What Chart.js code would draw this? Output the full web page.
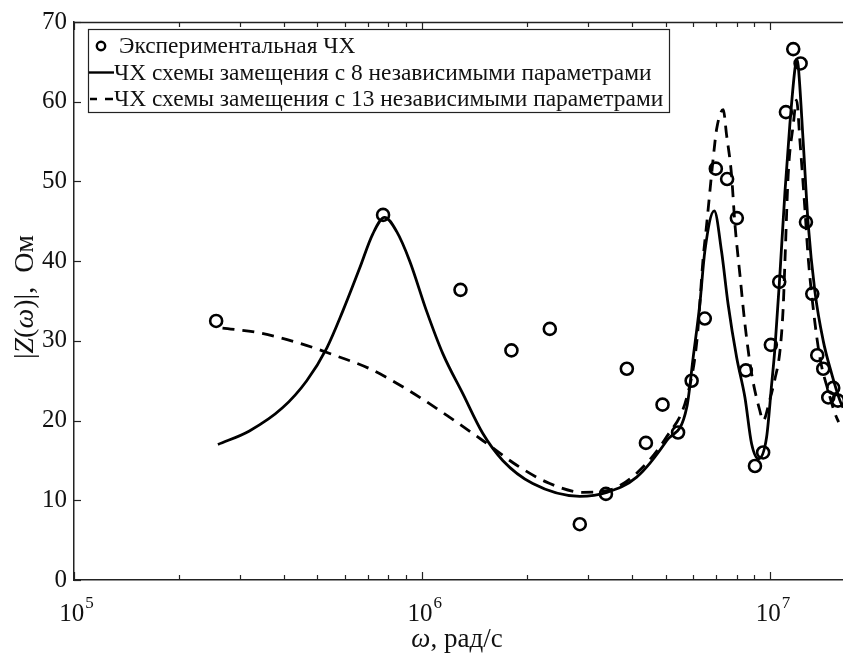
<!DOCTYPE html>
<html>
<head>
<meta charset="utf-8">
<script src="https://cdn.jsdelivr.net/npm/chart.js@4.4.1/dist/chart.umd.min.js"></script>
<style>
html,body{margin:0;padding:0;overflow:hidden;background:#fff}
canvas{display:block}
</style>
</head>
<body>
<canvas id="c" width="880" height="655"></canvas>
<script>
// Experimental frequency response (circles)
const expOmega = [2.56e5, 7.72e5, 1.288e6, 1.804e6, 2.325e6, 2.835e6, 3.37e6, 3.87e6, 4.39e6, 4.90e6,
  5.43e6, 5.94e6, 6.48e6, 6.97e6, 7.51e6, 8.01e6, 8.50e6, 9.03e6, 9.53e6, 1.003e7,
  1.060e7, 1.108e7, 1.163e7, 1.221e7, 1.265e7, 1.319e7, 1.363e7, 1.418e7, 1.466e7, 1.515e7, 1.563e7];
const expZ = [32.5, 45.8, 36.4, 28.8, 31.5, 7.0, 10.8, 26.5, 17.2, 22.0,
  18.5, 25.0, 32.8, 51.6, 50.3, 45.4, 26.3, 14.3, 16.0, 29.5,
  37.4, 58.7, 66.6, 64.8, 44.9, 35.9, 28.2, 26.5, 22.9, 24.1, 22.5];

// Model with 8 independent parameters (solid)
const fit8Omega = [2.59e5, 3.19e5, 3.97e5, 4.66e5, 5.32e5, 5.91e5, 6.61e5, 7.21e5, 7.80e5, 8.45e5,
  9.21e5, 1.03e6, 1.146e6, 1.307e6, 1.492e6, 1.703e6, 2.077e6, 2.835e6, 3.39e6, 4.13e6,
  5.04e6, 5.76e6, 6.00e6, 6.27e6, 6.48e6, 6.90e6, 7.24e6, 7.56e6, 8.00e6, 8.45e6,
  8.83e6, 9.25e6, 9.75e6, 1.008e7, 1.03e7, 1.065e7, 1.101e7, 1.137e7, 1.176e7, 1.19e7,
  1.202e7, 1.242e7, 1.284e7, 1.342e7, 1.418e7, 1.499e7, 1.584e7, 1.616e7];
const fit8Z = [17.0, 18.7, 21.6, 25.0, 29.1, 33.7, 39.1, 43.4, 45.5, 43.7,
  40.0, 33.7, 28.4, 23.4, 18.4, 15.0, 12.1, 10.5, 11.0, 12.9,
  17.5, 21.8, 27.9, 34.6, 41.2, 46.3, 41.2, 34.6, 27.9, 22.9,
  17.1, 15.2, 17.9, 24.5, 29.0, 38.4, 48.7, 57.1, 64.1, 65.3,
  64.5, 55.0, 44.6, 36.2, 30.0, 25.9, 22.5, 21.6];

// Model with 13 independent parameters (dashed)
const fit13Omega = [2.67e5, 3.41e5, 4.45e5, 5.68e5, 7.07e5, 9.21e5, 1.2e6, 1.492e6, 1.869e6, 2.325e6,
  2.892e6, 3.39e6, 4.13e6, 5.04e6, 5.76e6, 6.15e6, 6.41e6, 6.56e6, 6.70e6, 6.85e6,
  7.01e6, 7.32e6, 7.48e6, 7.73e6, 7.91e6, 8.17e6, 8.45e6, 8.83e6, 9.33e6, 9.53e6,
  9.97e6, 1.03e7, 1.065e7, 1.088e7, 1.101e7, 1.125e7, 1.163e7, 1.189e7, 1.216e7, 1.256e7,
  1.284e7, 1.327e7, 1.387e7, 1.466e7, 1.532e7, 1.57e7];
const fit13Z = [31.6, 31.0, 29.7, 28.1, 26.5, 23.7, 20.4, 17.5, 14.4, 12.1,
  11.0, 11.2, 13.4, 18.0, 23.0, 30.0, 40.4, 44.6, 48.7, 52.9,
  56.6, 59.0, 55.9, 50.9, 44.6, 38.4, 32.1, 25.9, 21.2, 20.0,
  22.7, 25.2, 28.7, 34.1, 40.0, 50.9, 57.1, 60.2, 55.0, 46.6,
  40.4, 34.1, 27.9, 23.7, 20.9, 19.8];

const yTicks = [0, 10, 20, 30, 40, 50, 60, 70];
const xDecades = [5, 6, 7];
const legendLabels = [
  'Экспериментальная ЧХ',
  'ЧХ схемы замещения с 8 независимыми параметрами',
  'ЧХ схемы замещения с 13 независимыми параметрами'
];
const xTitleParts = [['ω', true], [', рад/с', false]];
const yTitleParts = [['|', false], ['Z', true], ['(', false], ['ω', true], [')|,  Ом', false]];

const FONT = 'Liberation Serif';
const INK = '#111';

function toPoints(xs, ys) { return xs.map((v, i) => ({x: v, y: ys[i]})); }

function drawParts(ctx, parts, size, cx, cy) {
  let total = 0;
  const widths = parts.map(([t, it]) => {
    ctx.font = (it ? 'italic ' : '') + size + 'px "' + FONT + '"';
    const w = ctx.measureText(t).width; total += w; return w;
  });
  let xx = cx - total / 2;
  parts.forEach(([t, it], i) => {
    ctx.font = (it ? 'italic ' : '') + size + 'px "' + FONT + '"';
    ctx.fillText(t, xx, cy);
    xx += widths[i];
  });
}

const framePlugin = {
  id: 'framePlugin',
  afterDatasetsDraw(chart) {
    const {ctx, chartArea: a, scales: {x, y}} = chart;
    ctx.save();
    ctx.strokeStyle = '#222';
    ctx.lineWidth = 1.5;
    ctx.beginPath();
    ctx.moveTo(a.left, a.top + 0.5); ctx.lineTo(a.right, a.top + 0.5);
    ctx.stroke();
    ctx.lineWidth = 1.2;
    for (const d of xDecades) {
      for (let m = 1; m <= 9; m++) {
        const v = m * Math.pow(10, d);
        if (v < x.min || v > x.max) continue;
        const px = Math.round(x.getPixelForValue(v)) + 0.5;
        const len = m === 1 ? 8 : 5;
        ctx.beginPath();
        ctx.moveTo(px, a.bottom); ctx.lineTo(px, a.bottom - len);
        ctx.moveTo(px, a.top); ctx.lineTo(px, a.top + len);
        ctx.stroke();
      }
    }
    for (const v of yTicks) {
      const py = Math.round(y.getPixelForValue(v)) + 0.5;
      ctx.beginPath(); ctx.moveTo(a.left, py); ctx.lineTo(a.left + 7, py); ctx.stroke();
    }
    ctx.restore();
  },
  afterDraw(chart) {
    const {ctx, chartArea: a, scales: {x}} = chart;
    ctx.save();
    ctx.fillStyle = INK;
    ctx.textBaseline = 'alphabetic';
    // x tick labels 10^n
    for (const d of xDecades) {
      const px = x.getPixelForValue(Math.pow(10, d));
      ctx.font = '25px "' + FONT + '"';
      const wb = ctx.measureText('10').width;
      ctx.font = '17px "' + FONT + '"';
      const we = ctx.measureText(String(d)).width;
      const start = px - (wb + we) / 2 + 2;
      ctx.font = '25px "' + FONT + '"';
      ctx.fillText('10', start, a.bottom + 41);
      ctx.font = '17px "' + FONT + '"';
      ctx.fillText(String(d), start + wb + 1, a.bottom + 28);
    }
    // axis titles
    drawParts(ctx, xTitleParts, 27, 457, 647);
    ctx.save();
    ctx.translate(33, 297);
    ctx.rotate(-Math.PI / 2);
    drawParts(ctx, yTitleParts, 28, 0, 0);
    ctx.restore();
    // legend
    const lx = a.left + 14, ly = a.top + 7, lw = 581, lh = 83;
    ctx.fillStyle = '#fff';
    ctx.fillRect(lx, ly, lw, lh);
    ctx.strokeStyle = '#222';
    ctx.lineWidth = 1.2;
    ctx.strokeRect(lx + 0.5, ly + 0.5, lw, lh);
    ctx.fillStyle = INK;
    ctx.font = '23.4px "' + FONT + '"';
    const rows = [ly + 17, ly + 43.5, ly + 70];
    // row 1: circle
    ctx.lineWidth = 2.4;
    ctx.strokeStyle = '#000';
    ctx.beginPath(); ctx.arc(lx + 13, rows[0], 4.2, 0, Math.PI * 2); ctx.stroke();
    ctx.textBaseline = 'middle';
    ctx.fillText(legendLabels[0], lx + 31, rows[0] + 1);
    // row 2: solid line
    ctx.beginPath(); ctx.moveTo(lx + 1, rows[1]); ctx.lineTo(lx + 26, rows[1]); ctx.stroke();
    ctx.fillText(legendLabels[1], lx + 26, rows[1] + 1);
    // row 3: dashed line
    ctx.beginPath();
    ctx.moveTo(lx + 2, rows[2]); ctx.lineTo(lx + 9, rows[2]);
    ctx.moveTo(lx + 17, rows[2]); ctx.lineTo(lx + 25, rows[2]);
    ctx.stroke();
    ctx.fillText(legendLabels[2], lx + 26, rows[2] + 1);
    ctx.restore();
  }
};

new Chart(document.getElementById('c'), {
  type: 'scatter',
  data: {
    datasets: [
      {
        label: legendLabels[0],
        data: toPoints(expOmega, expZ),
        showLine: false,
        pointStyle: 'circle',
        pointRadius: 6,
        pointBorderWidth: 2.6,
        borderColor: '#000',
        backgroundColor: 'rgba(0,0,0,0)',
        order: 0
      },
      {
        label: legendLabels[1],
        data: toPoints(fit8Omega, fit8Z),
        showLine: true,
        pointRadius: 0,
        borderColor: '#000',
        borderWidth: 2.8,
        cubicInterpolationMode: 'monotone',
        order: 1
      },
      {
        label: legendLabels[2],
        data: toPoints(fit13Omega, fit13Z),
        showLine: true,
        pointRadius: 0,
        borderColor: '#000',
        borderWidth: 2.8,
        borderDash: [12, 8],
        cubicInterpolationMode: 'monotone',
        order: 2
      }
    ]
  },
  options: {
    responsive: false,
    animation: false,
    devicePixelRatio: 1,
    layout: {padding: {top: 21, right: 4, left: 0, bottom: 0}},
    plugins: {legend: {display: false}, tooltip: {enabled: false}},
    scales: {
      x: {
        type: 'logarithmic',
        min: 1e5,
        max: 1.95e7,
        ticks: {display: false},
        grid: {display: true, drawOnChartArea: false, drawTicks: false},
        border: {display: true, color: '#222', width: 1.5},
        afterFit(s) { s.height = 75; }
      },
      y: {
        min: 0,
        max: 70,
        ticks: {stepSize: 10, color: INK, padding: 7, font: {family: FONT, size: 25}},
        grid: {display: true, drawOnChartArea: false, drawTicks: false},
        border: {display: true, color: '#222', width: 1.5},
        afterFit(s) { s.width = 74; }
      }
    }
  },
  plugins: [framePlugin]
});
</script>
</body>
</html>
